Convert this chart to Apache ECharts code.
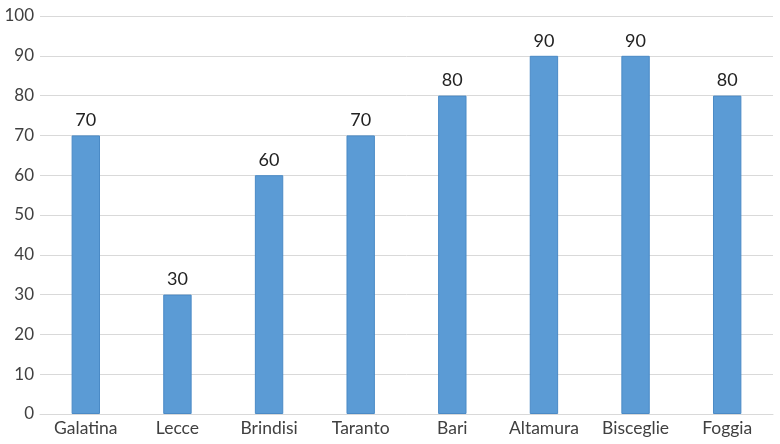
<!DOCTYPE html>
<html><head><meta charset="utf-8">
<script src="https://cdn.jsdelivr.net/npm/echarts@6/dist/echarts.min.js"></script>
<style>html,body{margin:0;padding:0;background:#fff}#c{width:780px;height:444px}</style>
</head><body><div id="c"></div>
<script>
var categories = ['Galatina','Lecce','Brindisi','Taranto','Bari','Altamura','Bisceglie','Foggia'];
var values = [70,30,60,70,80,90,90,80];
var yTicks = {min:0,max:100,interval:10};
var chart = echarts.init(document.getElementById('c'), null, {renderer:'canvas'});
chart.setOption({
  animation:false,
  backgroundColor:'#fff',
  textStyle:{fontFamily:'Lato'},
  grid:{left:40,right:7,top:16,bottom:30},
  xAxis:{type:'category',data:categories,
    axisLine:{lineStyle:{color:'#d9d9d9',width:1}},axisTick:{show:false},
    axisLabel:{color:'#404040',fontSize:17.5,fontFamily:'Lato',margin:5,interval:0}},
  yAxis:{type:'value',min:yTicks.min,max:yTicks.max,interval:yTicks.interval,
    axisLine:{show:false},axisTick:{show:false},
    splitLine:{lineStyle:{color:'#d9d9d9',width:1}},
    axisLabel:{color:'#404040',fontSize:17,fontFamily:'Lato',margin:6}},
  series:[{type:'bar',data:values,barWidth:'31%',
    itemStyle:{color:'#5b9bd5',borderColor:'#4a8ac6',borderWidth:1},
    label:{show:true,position:'top',distance:6,color:'#222',fontSize:18,fontFamily:'Lato'}}]
});
</script></body></html>
